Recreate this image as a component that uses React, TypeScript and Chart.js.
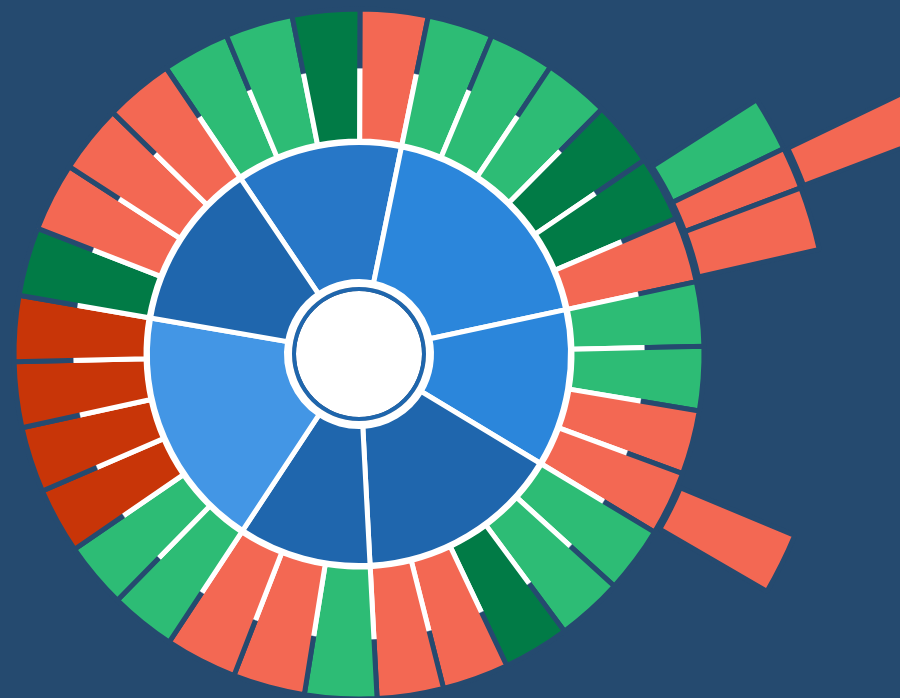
import React, { useEffect, useRef } from 'react';
import { Chart, registerables } from 'chart.js';

Chart.register(...registerables);

// ---------- data ----------
// Level 1 (inner blue ring): groups, value = angular share (degrees), clockwise from Group A
const groupLabels = ['Group A', 'Group B', 'Group C', 'Group D', 'Group E', 'Group F', 'Group G'];
const groupValues = [45.6, 66.3, 43.2, 55.9, 36.4, 66.4, 46.2];
const groupColors = ['#2777c7', '#2b86db', '#2b86db', '#1f66ad', '#1f66ad', '#4396e5', '#1f66ad'];

// Level 2 (leaf ring), clockwise from the start of Group A
const leafValues = [
  11.4, 11.4, 11.4, 11.4,
  11.05, 11.05, 11.05, 11.05, 11.05, 11.05,
  10.8, 10.8, 10.8, 10.8,
  11.18, 11.18, 11.18, 11.18, 11.18,
  12.13, 12.13, 12.13,
  11.07, 11.07, 11.07, 11.07, 11.07, 11.07,
  11.55, 11.55, 11.55, 11.55,
];
const leafStatus = [
  'g', 'g', 'G', 's',
  'g', 'g', 'g', 'G', 'G', 's',
  'g', 'g', 's', 's',
  'g', 'g', 'G', 's', 's',
  'g', 's', 's',
  'g', 'g', 'r', 'r', 'r', 'r',
  'G', 's', 's', 's',
];

// Level 3 and level 4 (partial rings), in degrees clockwise from the top; '' = empty
const level3Angles = [57.4, 6.8, 5.2, 7.8, 35.4, 7.6, 239.8];
const level3Status = ['', 'g', 's', 's', '', 's', ''];
const level4Angles = [64.4, 4.8, 290.8];
const level4Status = ['', 's', ''];

// ---------- styles ----------
const BG = '#254a6f';
const NONE = 'rgba(0,0,0,0)';
const statusColor: Record<string, string> = {
  g: '#2dbc75',
  G: '#017b46',
  s: '#f36853',
  r: '#c83508',
  '': NONE,
};
const START = -34.0; // start angle of Group A
const OUTER = 640; // outermost radius (px)
const WHITE_GAP_END = 285; // radius where white separators turn dark

export default function App() {
  const ref = useRef<HTMLCanvasElement>(null);

  useEffect(() => {
    if (!ref.current) return;

    const gapGradient = (c: any) => {
      const ch = c.chart;
      const a = ch.chartArea;
      if (!a) return '#ffffff';
      const cx = (a.left + a.right) / 2;
      const cy = (a.top + a.bottom) / 2;
      const g = ch.ctx.createRadialGradient(cx, cy, 0, cx, cy, OUTER);
      const t = WHITE_GAP_END / OUTER;
      g.addColorStop(0, '#ffffff');
      g.addColorStop(t, '#ffffff');
      g.addColorStop(t + 0.002, BG);
      g.addColorStop(1, BG);
      return g;
    };

    const spacer = (w: number) => ({
      data: [1],
      backgroundColor: [NONE],
      borderWidth: 0,
      weight: w,
    });

    const chart = new Chart(ref.current, {
      type: 'doughnut',
      data: {
        labels: leafStatus.map((_, i) => 'Leaf ' + (i + 1)),
        datasets: [
          {
            data: level4Angles,
            backgroundColor: level4Status.map((s) => statusColor[s]),
            borderColor: level4Status.map((s) => (s ? BG : NONE)),
            borderWidth: 4,
            rotation: 0,
            weight: 164,
          } as any,
          spacer(4),
          {
            data: level3Angles,
            backgroundColor: level3Status.map((s) => statusColor[s]),
            borderColor: level3Status.map((s) => (s ? BG : NONE)),
            borderWidth: 5,
            rotation: 0,
            weight: 124,
          },
          spacer(3),
          {
            data: leafValues,
            backgroundColor: leafStatus.map((s) => statusColor[s]),
            borderColor: gapGradient,
            borderWidth: 5,
            rotation: START,
            weight: 132,
          },
          {
            data: [1],
            backgroundColor: ['#ffffff'],
            borderWidth: 0,
            weight: 1.5,
          },
          {
            label: 'Groups',
            data: groupValues,
            backgroundColor: groupColors,
            borderColor: '#ffffff',
            borderWidth: 5,
            rotation: START,
            weight: 139,
          },
          {
            data: [1],
            backgroundColor: ['#ffffff'],
            borderWidth: 0,
            weight: 5.5,
          },
          {
            data: [1],
            backgroundColor: ['#1f66ad'],
            borderWidth: 0,
            weight: 4,
          },
          {
            data: [1],
            backgroundColor: ['#ffffff'],
            borderWidth: 0,
            weight: 63,
          },
        ] as any,
      },
      options: {
        responsive: false,
        animation: false,
        events: [],
        radius: OUTER,
        cutout: 0,
        layout: { padding: { left: 0, right: 182, top: 10, bottom: 0 } },
        plugins: {
          legend: { display: false },
          tooltip: { enabled: false },
        },
      } as any,
    });

    void groupLabels;
    return () => chart.destroy();
  }, []);

  return (
    <div
      style={{
        position: 'fixed',
        left: 0,
        top: 0,
        width: 900,
        height: 698,
        background: BG,
        overflow: 'hidden',
      }}
    >
      <canvas ref={ref} width={900} height={698} style={{ display: 'block', width: 900, height: 698 }} />
    </div>
  );
}
